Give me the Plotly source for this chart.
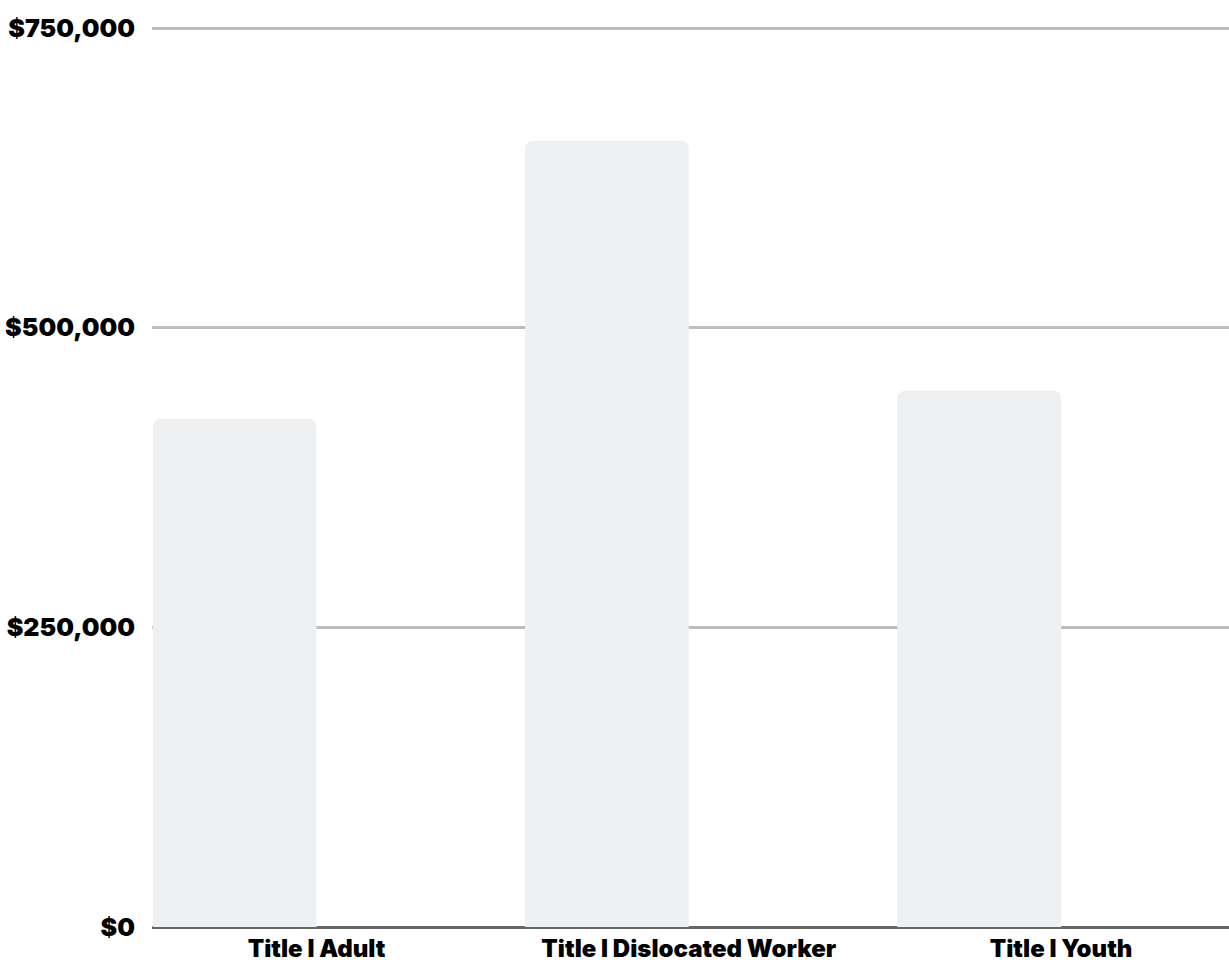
import plotly.graph_objects as go

categories = ["Title I Adult", "Title I Dislocated Worker", "Title I Youth"]
values = [424000, 656000, 447500]
tick_vals = [0, 250000, 500000, 750000]
tick_text = ["$0", "$250,000", "$500,000", "$750,000"]

FONT = "Inter"
FS = 25

fig = go.Figure()
fig.add_trace(go.Bar(
    x=categories,
    y=values,
    offset=-0.44,
    width=0.44,
    marker=dict(color="#eff0f2", line=dict(width=0)),
    hoverinfo="skip",
))

fig.update_layout(
    width=1229,
    height=962,
    margin=dict(l=152, r=0, t=25, b=35, pad=0),
    paper_bgcolor="white",
    plot_bgcolor="white",
    barcornerradius=8,
    showlegend=False,
    font=dict(family=FONT, color="#000000", size=FS, weight=900),
    xaxis=dict(
        type="category",
        range=[-0.442, 2.451],
        showgrid=False,
        showline=False,
        zeroline=False,
        ticks="",
        ticklabelstandoff=5,
        tickfont=dict(family=FONT, size=FS - 1, color="#000000", weight=900),
        automargin=False,
    ),
    yaxis=dict(
        range=[0, 752500],
        tickvals=tick_vals,
        ticktext=tick_text,
        showgrid=True,
        gridcolor="#bcbcbc",
        gridwidth=3,
        zeroline=True,
        zerolinecolor="#666666",
        zerolinewidth=3,
        showline=False,
        ticks="",
        ticklabelstandoff=16,
        tickfont=dict(family=FONT, size=FS, color="#000000", weight=900),
        automargin=False,
        layer="below traces",
    ),
)

fig.write_html("out.html")
